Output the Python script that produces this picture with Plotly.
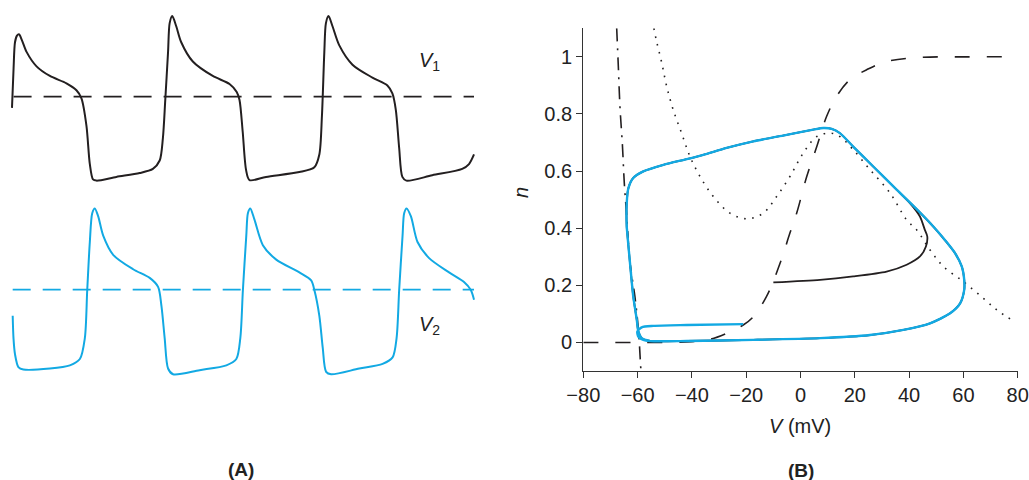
import plotly.graph_objects as go

# ---------------- Panel A data (time in ms, membrane potential in mV) ----------------
v1_t = [0, 0.8, 1.5, 2.5, 3.5, 5, 7.3, 12.3, 19, 27.3, 32.3, 34.8, 37.3, 39, 40.6,
        42.3, 52.3, 64, 70.6, 74, 75.6, 76.8, 78.2, 79, 80.3, 82.3, 84.8, 90.6, 100.6, 109,
        112.6, 114, 115.6, 117.3, 119, 127.3, 144, 151.5, 154, 155.3, 156.5, 157.3, 158.6, 160.6, 164,
        170.6, 180.6, 188.1, 190.6, 192.3, 194, 195.6, 197.6, 210.6, 225.6, 229, 231.5]
v1_mV = [-7.2, 21.8, 40.5, 45.3, 46.3, 41.9, 33.5, 23, 16, 10.7, 5.6, -0.2, -20, -48, -59.1,
         -60, -57.3, -54.5, -51.5, -45.4, -29.3, -1.4, 33.5, 54.4, 59.5, 52.1, 40.5, 26.5, 16, 10.2,
         4.4, -1.4, -24.5, -52.4, -59.6, -57.3, -53.8, -50.3, -41, -13.1, 33.5, 54.4, 59.5, 52.1, 38.2,
         24.2, 14.8, 9.1, 3.3, -8.4, -36.3, -57.3, -60, -56.1, -51.5, -48, -41]

v2_t = [0.35, 0.75, 1.5, 3.2, 5.7, 19, 29, 34, 36.5, 37.7, 39, 40.2, 41.5, 43.2, 45.7,
        50.7, 60.7, 69, 73.2, 74.9, 76.5, 78.2, 80.7, 94, 107.4, 112.4, 114.4, 115.7, 117.4, 118.2,
        119.4, 121.5, 125.7, 132.4, 144, 149.9, 151.5, 154, 155.7, 157.4, 159.9, 174, 185.7, 190.7, 192.7,
        194, 195.7, 196.5, 197.7, 199.9, 203.2, 209, 219, 226.5, 229.9, 231.5]
v2_mV = [-18, -34.2, -45.9, -55.2, -57, -56.3, -54, -49.4, -34.2, 0.7, 35.6, 56.5, 60, 54.2, 40.2,
         26.3, 15.8, 9.5, 3, -11, -34.2, -56.3, -60.5, -57.5, -54, -49.4, -34.2, 0.7, 40.2, 56.5,
         60, 51.8, 33.3, 22.8, 13.5, 7.7, 0.7, -18, -41.2, -58.7, -60.5, -56.3, -52.9, -48.2, -34.2,
         0.7, 40.2, 56.5, 60, 54.2, 35.6, 23.9, 13.5, 6.5, 0.7, -6.3]

threshold_mV = 1.0
threshold_t = [0.8, 231.5]

# ---------------- Panel B data (V in mV, n gating variable) ----------------
dashdot_V = [-67.7, -67.1, -66.5, -65.6, -64.9, -64.0, -62.8, -61.0, -59.7, -58.9, -58.75]
dashdot_n = [1.10, 0.967, 0.826, 0.692, 0.558, 0.441, 0.279, 0.161, 0.044, -0.079, -0.1]

dotted_V = [-54, -53, -51.1, -49.3, -46.9, -43.8, -40.7, -37, -32.1, -26, -19.8, -13.7, -8.8, -3.9, 1,
            6, 10.9, 14.5, 19.4, 25.6, 33, 39.1, 42.8, 47.7, 52.6, 60, 67.3, 72.3, 77.8]
dotted_n = [1.10, 1.054, 0.979, 0.897, 0.815, 0.733, 0.651, 0.581, 0.511, 0.453, 0.433, 0.453, 0.511, 0.581, 0.663,
            0.721, 0.733, 0.721, 0.675, 0.605, 0.523, 0.429, 0.394, 0.324, 0.266, 0.213, 0.155, 0.114, 0.079]

ninf_V = [-80, -60, -40, -33.3, -27.2, -21.1, -17.4, -12.5, -7.5, -3.9, -1.4, 2.3, 6, 9.6, 13.3,
          18.2, 24.4, 31.7, 44, 60, 80]
ninf_n = [0, 0.0, 0.003, 0.011, 0.032, 0.061, 0.09, 0.161, 0.278, 0.383, 0.453, 0.581, 0.686, 0.791, 0.862,
          0.92, 0.955, 0.984, 0.998, 1.0, 1.0]

cycle_V = [-55.5, -41.9, -17.4, 7.2, 25.6, 37.9, 47.7, 55.1, 58.8, 60.3, 60.3, 59.4, 56.9, 53.5, 49.0,
           44, 35.4, 26.8, 19.4, 14.5, 11.5, 8.4, 4.7, -5.1, -17.4, -27.2, -35.8, -41.9, -50.5, -57.9,
           -61.6, -63.4, -64, -64, -63.8, -62.8, -61.6, -60.3, -59.7, -58.5]
cycle_n = [0.005, 0.005, 0.009, 0.015, 0.026, 0.044, 0.067, 0.102, 0.137, 0.184, 0.219, 0.266, 0.313, 0.355, 0.405,
           0.455, 0.535, 0.616, 0.686, 0.733, 0.748, 0.751, 0.745, 0.727, 0.704, 0.681, 0.657, 0.642, 0.622, 0.599,
           0.576, 0.54, 0.488, 0.406, 0.383, 0.278, 0.161, 0.079, 0.038, 0.015]

black_start_V = [-10, 7.2, 19.4, 31.7, 39.1, 44, 46.2, 46.7, 45.8, 44, 40.3]
black_start_n = [0.21, 0.219, 0.231, 0.248, 0.272, 0.301, 0.336, 0.371, 0.394, 0.441, 0.488]
black_merge_index = 16

blue_start_V = [-21.1, -41.9, -54.2, -58.5, -60.1, -59.7, -57.9]
blue_start_n = [0.064, 0.061, 0.058, 0.053, 0.038, 0.02, 0.009]

# ---------------- styling ----------------
BLACK = "#231F20"
BLUE = "#12A9E3"
AXC = "#333333"
FONT = "Liberation Sans, Arial, sans-serif"
W, H = 1029, 480


def px_x(p):
    return p / W


def px_y(p):
    return 1 - p / H


fig = go.Figure()

# Panel A traces
fig.add_trace(go.Scatter(x=threshold_t, y=[threshold_mV] * 2, mode="lines",
                         line=dict(color=BLACK, width=1.8, dash="18px,12px"),
                         xaxis="x", yaxis="y"))
fig.add_trace(go.Scatter(x=v1_t, y=v1_mV, mode="lines",
                         line=dict(color=BLACK, width=2, shape="spline", smoothing=0.8),
                         xaxis="x", yaxis="y"))
fig.add_trace(go.Scatter(x=[v2_t[0], threshold_t[1]], y=[threshold_mV] * 2, mode="lines",
                         line=dict(color=BLUE, width=1.8, dash="18px,12px"),
                         xaxis="x", yaxis="y2"))
fig.add_trace(go.Scatter(x=v2_t, y=v2_mV, mode="lines",
                         line=dict(color=BLUE, width=2, shape="spline", smoothing=0.8),
                         xaxis="x", yaxis="y2"))

# Panel B traces
fig.add_trace(go.Scatter(x=dotted_V, y=dotted_n, mode="lines",
                         line=dict(color=BLACK, width=1.6, dash="1.6px,6.5px", shape="spline", smoothing=1),
                         xaxis="x2", yaxis="y3"))
fig.add_trace(go.Scatter(x=dashdot_V, y=dashdot_n, mode="lines",
                         line=dict(color=BLACK, width=1.6, dash="13px,7px,2px,7px", shape="spline", smoothing=1),
                         xaxis="x2", yaxis="y3"))
fig.add_trace(go.Scatter(x=ninf_V, y=ninf_n, mode="lines",
                         line=dict(color=BLACK, width=1.6, dash="15px,17px", shape="spline", smoothing=1),
                         xaxis="x2", yaxis="y3"))

k = black_merge_index
black_V = black_start_V + cycle_V[k:] + cycle_V[:k + 1]
black_n = black_start_n + cycle_n[k:] + cycle_n[:k + 1]
fig.add_trace(go.Scatter(x=black_V, y=black_n, mode="lines",
                         line=dict(color=BLACK, width=1.8, shape="spline", smoothing=0.7),
                         xaxis="x2", yaxis="y3"))
blue_V = blue_start_V + cycle_V + cycle_V[:1]
blue_n = blue_start_n + cycle_n + cycle_n[:1]
fig.add_trace(go.Scatter(x=blue_V, y=blue_n, mode="lines",
                         line=dict(color=BLUE, width=2.4, shape="spline", smoothing=0.7),
                         xaxis="x2", yaxis="y3"))

tickfont = dict(family=FONT, size=20, color="#222222")

fig.update_layout(
    width=W, height=H, autosize=False,
    margin=dict(l=0, r=0, t=0, b=0, pad=0, autoexpand=False),
    paper_bgcolor="white", plot_bgcolor="white",
    showlegend=False,
    font=dict(family=FONT, color="#222222"),
    xaxis=dict(domain=[px_x(8), px_x(479)], range=[-2, 234], visible=False, anchor="y", automargin=False),
    yaxis=dict(domain=[px_y(187.5), px_y(8.5)], range=[-65, 65], visible=False, anchor="x", automargin=False),
    yaxis2=dict(domain=[px_y(380.5), px_y(201.5)], range=[-65, 65], visible=False, anchor="x", automargin=False),
    xaxis2=dict(domain=[px_x(583.3), px_x(1017.7)], range=[-80, 80], anchor="y3", automargin=False,
                showline=True, linecolor=AXC, linewidth=1.3, mirror=False,
                ticks="outside", ticklen=6, tickcolor=AXC, tickwidth=1.3,
                tickmode="linear", tick0=-80, dtick=20, tickfont=tickfont,
                showgrid=False, zeroline=False),
    yaxis3=dict(domain=[px_y(371), px_y(28.3)], range=[-0.1, 1.1], anchor="x2", automargin=False,
                showline=True, linecolor=AXC, linewidth=1.3, mirror=False,
                ticks="outside", ticklen=6, tickcolor=AXC, tickwidth=1.3,
                tickmode="linear", tick0=0, dtick=0.2, tickfont=tickfont,
                showgrid=False, zeroline=False),
)

ann = [
    dict(text="<i>V</i><sub>1</sub>", x=px_x(429), y=px_y(62), size=20, angle=0),
    dict(text="<i>V</i><sub>2</sub>", x=px_x(429), y=px_y(325), size=20, angle=0),
    dict(text="<i>n</i>", x=px_x(521), y=px_y(193), size=20, angle=-90),
    dict(text="<i>V</i> (mV)", x=px_x(800), y=px_y(426), size=20, angle=0),
    dict(text="<b>(A)</b>", x=px_x(241), y=px_y(469), size=19, angle=0),
    dict(text="<b>(B)</b>", x=px_x(801), y=px_y(470), size=19, angle=0),
]
for a in ann:
    fig.add_annotation(text=a["text"], x=a["x"], y=a["y"], xref="paper", yref="paper",
                       xanchor="center", yanchor="middle", showarrow=False, textangle=a["angle"],
                       font=dict(family=FONT, size=a["size"], color="#222222"))

fig.write_html("out.html")
